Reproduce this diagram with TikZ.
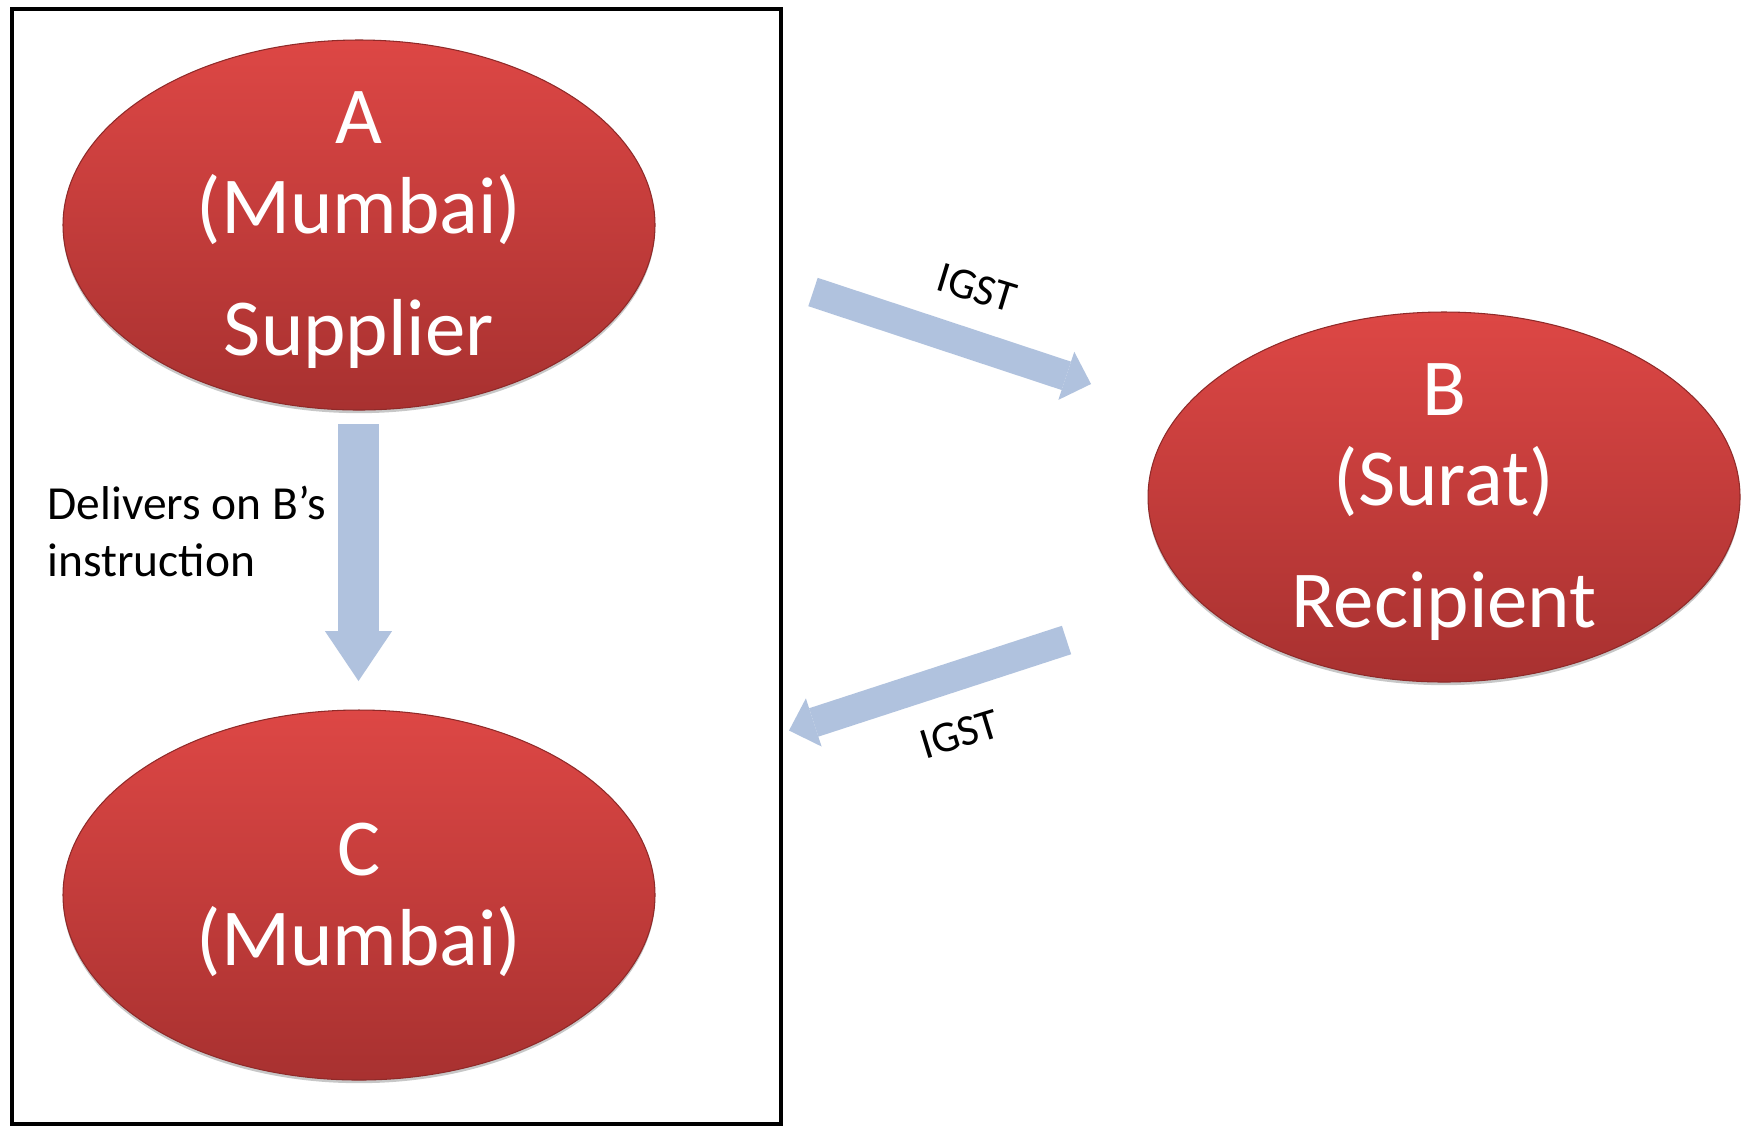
\documentclass[tikz,border=0pt]{standalone}
\usepackage{fontspec}
\setmainfont{Carlito}
\usetikzlibrary{arrows.meta,shadows,shapes.geometric}
\definecolor{partytop}{RGB}{221,71,69}
\definecolor{partybottom}{RGB}{168,49,48}
\definecolor{flowblue}{RGB}{176,194,222}
\begin{document}
\begin{tikzpicture}[x=0.1mm, y=-0.1mm,
    party/.style={ellipse, inner sep=0pt, minimum width=59.2mm, minimum height=37mm,
        top color=partytop, bottom color=partybottom,
        draw=partybottom!85!black, line width=0.3pt,
        drop shadow={shadow xshift=0pt, shadow yshift=-0.9pt, opacity=0.22, fill=black}},
    partytext/.style={text=white, align=center, yshift=-1.4pt,
        font=\fontsize{23}{25.6}\selectfont},
    flow/.style={draw=flowblue, line width=8.5pt,
        -{Triangle[width=14.4pt, length=7.4pt, line width=0pt]}},
    deliver/.style={draw=flowblue, line width=11.7pt,
        -{Triangle[width=19.1pt, length=14.2pt, line width=0pt]}},
    note/.style={text=black, inner sep=0pt, font=\fontsize{12.5}{14}\selectfont}]
    \def \gap {9.1pt}   % extra space before the role line
    % page
    \fill[white] (0,0) rectangle (1746,1127);
    \useasboundingbox (0,0) rectangle (1746,1127);
    % Mumbai frame
    \draw[line width=1.1pt] (12,9) rectangle (781,1124);
    % parties
    \node[party] (A) at (359,225) {};
    \node[partytext] (Atext) at (A) {A\\(Mumbai)\\[\gap]Supplier};
    \node[party] (C) at (359,895) {};
    \node[partytext] (Ctext) at (C) {C\\(Mumbai)};
    \node[party] (B) at (1444,497) {};
    \node[partytext] (Btext) at (B) {B\\(Surat)\\[\gap]Recipient};
    % delivery from A to C
    \coordinate (dtail) at (358.5,424);
    \coordinate (dtip) at (358.5,681);
    \draw[deliver] (dtail) -- (dtip);
    \node[anchor=base west, align=left, inner sep=0pt, font=\fontsize{13.5}{16.2}\selectfont]
        (deliverynote) at (47,576) {Delivers on B’s\\instruction};
    % invoice A to B
    \coordinate (abtail) at (813,292);
    \coordinate (abtip) at (1091,384);
    \draw[flow] (abtail) -- (abtip);
    \node[note, rotate=-17] (abtax) at (977,288) {IGST};
    % invoice B to C
    \coordinate (bctail) at (1066.5,640);
    \coordinate (bctip) at (789,730.5);
    \draw[flow] (bctail) -- (bctip);
    \node[note, rotate=17] (bctax) at (960,734) {IGST};
\end{tikzpicture}
\end{document}
